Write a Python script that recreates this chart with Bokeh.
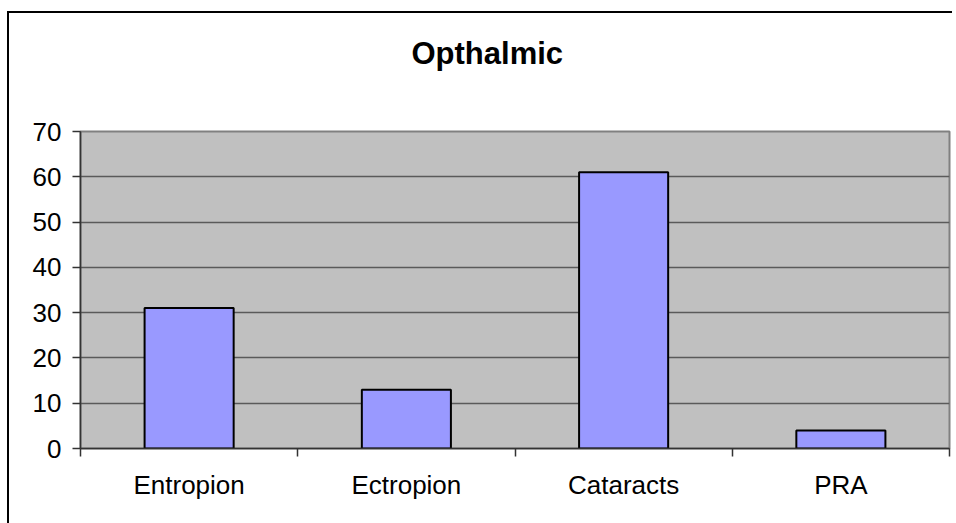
from bokeh.plotting import figure
from bokeh.models import Range1d, FixedTicker, Title
from bokeh.embed import file_html
from bokeh.resources import INLINE

categories = ["Entropion", "Ectropion", "Cataracts", "PRA"]
values = [31, 13, 61, 4]
y_ticks = [0, 10, 20, 30, 40, 50, 60, 70]
title_text = "Opthalmic"

xs = [i + 0.5 for i in range(len(categories))]

p = figure(width=952, height=523, output_backend="svg", toolbar_location=None,
           x_range=Range1d(0, len(categories)), y_range=Range1d(0, 70),
           min_border_left=80, min_border_right=3, min_border_top=0, min_border_bottom=75)
p.background_fill_color = "#C0C0C0"
p.border_fill_color = None
p.outline_line_color = "#808080"
p.outline_line_width = 2

# outer chart border (left and top edges), drawn as the element's background
p.styles = {
    "background-color": "white",
    "background-image": "linear-gradient(black, black), linear-gradient(black, black)",
    "background-size": "2px 100%, 100% 2px",
    "background-position": "7px 11px, 7px 11px",
    "background-repeat": "no-repeat",
}

p.vbar(x=xs, top=values, width=0.41, fill_color="#9999FF", line_color="black", line_width=2)

# spacer between title and plot area
p.add_layout(Title(text=" ", text_font_size="1px", standoff=21), "above")

# title
p.title.text = title_text
p.title.align = "left"
p.title.offset = 331
p.title.standoff = 70
p.title.text_font = "Liberation Sans"
p.title.text_font_style = "bold"
p.title.text_font_size = "31px"
p.title.text_color = "black"
p.title.vertical_align = "top"

# grid
p.xgrid.visible = False
p.ygrid.ticker = FixedTicker(ticks=y_ticks)
p.ygrid.grid_line_color = "#5a5a5a"
p.ygrid.grid_line_width = 1.5

# y axis
p.yaxis.ticker = FixedTicker(ticks=y_ticks)
p.yaxis.major_tick_in = 0
p.yaxis.major_tick_out = 8
p.yaxis.minor_tick_out = 0
p.yaxis.minor_tick_in = 0
p.yaxis.major_label_standoff = 11
p.yaxis.major_label_text_font = "Liberation Sans"
p.yaxis.major_label_text_font_size = "26px"
p.yaxis.major_label_text_color = "black"
p.yaxis.axis_line_color = "#333333"
p.yaxis.axis_line_width = 1.5
p.yaxis.major_tick_line_color = "#333333"
p.yaxis.major_tick_line_width = 1.5

# x axis: labels at centres, ticks at category boundaries
p.xaxis.ticker = FixedTicker(ticks=xs, minor_ticks=list(range(len(categories) + 1)))
p.xaxis.major_label_overrides = {x: c for x, c in zip(xs, categories)}
p.xaxis.major_tick_in = 0
p.xaxis.major_tick_out = 0
p.xaxis.minor_tick_in = 0
p.xaxis.minor_tick_out = 8
p.xaxis.minor_tick_line_color = "#333333"
p.xaxis.minor_tick_line_width = 1.5
p.xaxis.major_label_standoff = 13
p.xaxis.major_label_text_font = "Liberation Sans"
p.xaxis.major_label_text_font_size = "26px"
p.xaxis.major_label_text_color = "black"
p.xaxis.axis_line_color = "#333333"
p.xaxis.axis_line_width = 1.5

open("out.html", "w").write(file_html(p, INLINE))
